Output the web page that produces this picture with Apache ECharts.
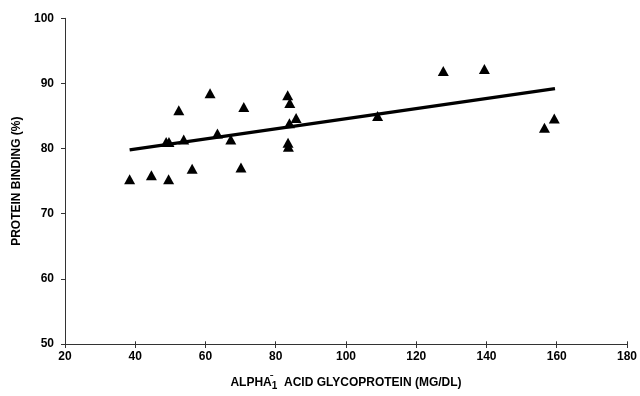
<!DOCTYPE html>
<html>
<head>
<meta charset="utf-8">
<script src="https://cdn.jsdelivr.net/npm/echarts@6/dist/echarts.min.js"></script>
<style>html,body{margin:0;padding:0;background:#fff}#c{width:640px;height:396px}</style>
</head>
<body>
<div id="c"></div>
<script>
var agpValues = [38.4, 44.6, 49.5, 48.8, 49.6, 52.4, 53.8, 56.2, 61.3, 63.4, 67.2, 70.1, 70.9, 83.4, 84.0, 83.5, 83.6, 83.9, 85.8, 109.0, 127.7, 139.4, 156.5, 159.3];
var bindingValues = [75.3, 75.9, 75.3, 81.0, 81.0, 85.9, 81.4, 76.9, 88.5, 82.3, 81.4, 77.1, 86.4, 88.2, 87.0, 80.9, 80.3, 83.9, 84.7, 85.0, 91.9, 92.2, 83.2, 84.6];
var fitLineX = [38.4, 159.5];
var fitLineY = [79.8, 89.2];
var xTicks = [20, 40, 60, 80, 100, 120, 140, 160, 180];
var yTicks = [50, 60, 70, 80, 90, 100];

var FONT = "'Liberation Sans', Arial, sans-serif";
var chart = echarts.init(document.getElementById('c'), null, {renderer: 'canvas'});
var pts = agpValues.map(function (x, i) { return [x, bindingValues[i]]; });
var fit = fitLineX.map(function (x, i) { return [x, fitLineY[i]]; });
var axisCol = '#333';

chart.setOption({
  animation: false,
  backgroundColor: '#fff',
  grid: {left: 65, right: 10.5, top: 18.3, bottom: 51.7},
  xAxis: [{
    type: 'value', min: xTicks[0], max: xTicks[xTicks.length - 1], interval: 20,
    splitLine: {show: false},
    axisLine: {lineStyle: {color: axisCol, width: 1}},
    axisTick: {inside: false, length: 4, lineStyle: {color: axisCol}},
    axisLabel: {color: '#000', fontFamily: FONT, fontWeight: 'bold', fontSize: 12, margin: 7},
    name: '{t|ALPHA}{sup|ˉ}{sub|1}{t|  ACID GLYCOPROTEIN (MG/DL)}',
    nameLocation: 'middle', nameGap: 31,
    nameTextStyle: {
      color: '#000', fontFamily: FONT, fontWeight: 'bold', fontSize: 12,
      rich: {
        t: {fontFamily: FONT, fontWeight: 'bold', fontSize: 12, color: '#000', lineHeight: 16, verticalAlign: 'middle'},
        sup: {fontFamily: FONT, fontWeight: 'bold', fontSize: 10, color: '#000', width: 0, verticalAlign: 'top', lineHeight: 16, padding: [0, 0, 6, 0]},
        sub: {fontFamily: FONT, fontWeight: 'bold', fontSize: 10, color: '#000', verticalAlign: 'bottom', lineHeight: 16, padding: [8, 0, 0, 0]}
      }
    }
  }, {
    type: 'value', min: xTicks[0], max: xTicks[xTicks.length - 1], interval: 20,
    position: 'top', offset: -326,
    splitLine: {show: false},
    axisLine: {show: false},
    axisTick: {inside: false, length: 3, lineStyle: {color: axisCol}},
    axisLabel: {show: false}
  }],
  yAxis: {
    type: 'value', min: yTicks[0], max: yTicks[yTicks.length - 1], interval: 10,
    splitLine: {show: false},
    axisLine: {show: true, lineStyle: {color: axisCol, width: 1}},
    axisTick: {show: true, inside: false, length: 4, lineStyle: {color: axisCol}},
    axisLabel: {color: '#000', fontFamily: FONT, fontWeight: 'bold', fontSize: 12, margin: 11},
    name: 'PROTEIN BINDING (%)', nameLocation: 'middle', nameGap: 38,
    nameTextStyle: {color: '#000', fontFamily: FONT, fontWeight: 'bold', fontSize: 12}
  },
  series: [{
    type: 'line', data: fit, xAxisIndex: 0, showSymbol: false, symbol: 'none',
    lineStyle: {color: '#000', width: 3.3}, z: 2, silent: true
  }, {
    type: 'scatter', data: pts, xAxisIndex: 0, symbol: 'triangle', symbolSize: [11, 10],
    itemStyle: {color: '#000', opacity: 1}, z: 3
  }]
});
</script>
</body>
</html>
